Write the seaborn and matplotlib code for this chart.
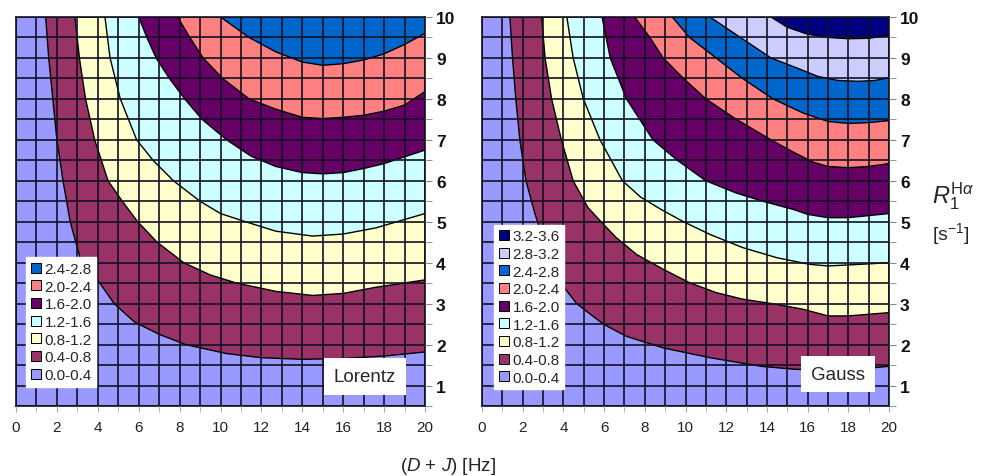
import matplotlib
matplotlib.use("Agg")
import matplotlib.pyplot as plt
import seaborn as sns
from matplotlib.lines import Line2D
from matplotlib.ticker import MultipleLocator

sns.set_style("white")
plt.rcParams['font.family'] = ['Liberation Sans', 'DejaVu Sans']
plt.rcParams['mathtext.fontset'] = 'custom'
plt.rcParams['mathtext.rm'] = 'Liberation Sans'
plt.rcParams['mathtext.it'] = 'Liberation Sans:italic'

# ---- data: range labels and colours of the bands (lowest first) ----
band_labels = ["0.0-0.4", "0.4-0.8", "0.8-1.2", "1.2-1.6", "1.6-2.0",
               "2.0-2.4", "2.4-2.8", "2.8-3.2", "3.2-3.6"]
band_colors = ["#9999FF", "#993366", "#FFFFCC", "#CCFFFF", "#660066",
               "#FF8080", "#0066CC", "#CCCCFF", "#000080"]

# contour boundaries (D+J [Hz], R1 [s^-1])
lor_04 = [(1.45, 10), (1.6, 9), (1.8, 8), (2.0, 7), (2.3, 6), (2.65, 5), (3.2, 4),
          (4.1, 3.5), (4.8, 3.0), (5.8, 2.55), (7.0, 2.25), (8.3, 2.0), (10.3, 1.78),
          (12, 1.68), (14, 1.64), (16, 1.66), (18, 1.72), (20, 1.82)]
lor_08 = [(2.88, 10), (3.1, 9), (3.4, 8), (3.85, 7), (4.5, 6), (5.2, 5.5), (5.95, 5),
          (6.9, 4.5), (8.2, 4), (9.5, 3.7), (10.8, 3.5), (12.7, 3.3), (14.5, 3.2),
          (16, 3.25), (17.6, 3.4), (20, 3.58)]
lor_12 = [(4.35, 10), (4.6, 9), (5.1, 8), (5.9, 7), (6.7, 6.5), (7.7, 6), (9.0, 5.5),
          (10, 5.2), (11.1, 5.02), (12.7, 4.77), (14.5, 4.65), (16, 4.7), (17.6, 4.85),
          (20, 5.2)]
lor_16 = [(6.0, 10), (6.4, 9.5), (6.85, 9), (7.5, 8.5), (8.25, 8), (9.1, 7.5),
          (10.3, 7.0), (11.5, 6.6), (12.7, 6.35), (14, 6.2), (15, 6.17), (16, 6.2),
          (17, 6.3), (18, 6.42), (20, 6.75)]
lor_20 = [(7.9, 10), (8.5, 9.5), (9.15, 9), (10.1, 8.5), (11.4, 8), (12.7, 7.75),
          (14, 7.55), (15, 7.52), (16, 7.55), (17, 7.6), (18, 7.7), (19, 7.85), (20, 8.18)]
lor_24 = [(10.0, 10), (11.4, 9.5), (12.7, 9.15), (14, 8.9), (15, 8.82), (16, 8.86),
          (17, 8.95), (18, 9.1), (19, 9.33), (20, 9.6)]

gau_04 = [(1.37, 10), (1.5, 9), (1.66, 8), (1.86, 7), (2.16, 6), (2.6, 5.2), (3.1, 4.4),
          (3.8, 3.55), (4.65, 3.0), (5.96, 2.5), (7.1, 2.2), (8.9, 1.92), (11.2, 1.68),
          (13.7, 1.47), (15.3, 1.4), (17, 1.37), (18.5, 1.4), (20, 1.47)]
gau_08 = [(2.93, 10), (3.1, 9), (3.42, 8), (3.9, 7), (4.48, 6), (5.2, 5.35), (5.96, 4.94),
          (6.6, 4.61), (7.6, 4.2), (8.9, 3.84), (10.2, 3.51), (11.5, 3.27), (12.8, 3.11),
          (14.5, 2.98), (15.8, 2.86), (17, 2.7), (18, 2.7), (20, 2.78)]
gau_12 = [(4.17, 10), (4.48, 9), (4.98, 8), (5.8, 7), (6.9, 6), (7.8, 5.6), (8.8, 5.3),
          (9.9, 5.0), (11.2, 4.69), (12.8, 4.37), (14.5, 4.12), (16.1, 3.96), (17, 3.92),
          (18.6, 3.96), (20, 4.0)]
gau_16 = [(5.9, 10), (6.3, 9), (7.1, 8), (8.4, 7), (9.6, 6.5), (11.0, 6.0), (12.5, 5.7),
          (13.8, 5.5), (15.3, 5.3), (16, 5.18), (17, 5.1), (18, 5.1), (20, 5.2)]
gau_20 = [(7.5, 10), (8.25, 9.5), (8.9, 9), (9.9, 8.5), (11.0, 8), (12.5, 7.5),
          (14.2, 7.0), (15.3, 6.7), (16.3, 6.45), (17, 6.35), (18, 6.32), (19, 6.35),
          (20, 6.42)]
gau_24 = [(9.35, 10), (10.2, 9.5), (11.5, 9), (12.8, 8.5), (14.3, 8), (15.8, 7.65),
          (17, 7.45), (18, 7.4), (19, 7.42), (20, 7.47)]
gau_28 = [(11.2, 10), (12.7, 9.5), (14.2, 9), (15.5, 8.75), (16.5, 8.55), (17.5, 8.45),
          (18.5, 8.43), (19.3, 8.45), (20, 8.52)]
gau_32 = [(14.2, 10), (15, 9.75), (16, 9.58), (17, 9.5), (18, 9.47), (19, 9.48),
          (20, 9.55)]

lorentz_bounds = [lor_04, lor_08, lor_12, lor_16, lor_20, lor_24]
gauss_bounds = [gau_04, gau_08, gau_12, gau_16, gau_20, gau_24, gau_28, gau_32]

x_ticks = list(range(0, 21, 2))
y_ticks = list(range(1, 11))
X_MIN, X_MAX = 0, 20
Y_MIN, Y_MAX = 0.5, 10

W, H = 981, 477
fig = plt.figure(figsize=(W / 100, H / 100), dpi=100)


def px_axes(x0, y0, x1, y1):
    return fig.add_axes([x0 / W, 1 - y1 / H, (x1 - x0) / W, (y1 - y0) / H])


def draw_panel(ax, bounds, name, leg_anchor, name_pos):
    ax.set_xlim(X_MIN, X_MAX)
    ax.set_ylim(Y_MIN, Y_MAX)
    ax.set_facecolor(band_colors[0])
    for k, b in enumerate(bounds):
        xs = [p[0] for p in b] + [X_MAX]
        ys = [p[1] for p in b] + [Y_MAX]
        ax.fill(xs, ys, color=band_colors[k + 1], zorder=1, lw=0)
        sns.lineplot(x=[p[0] for p in b], y=[p[1] for p in b], sort=False,
                     estimator=None, color="black", lw=1.0, ax=ax, zorder=2)
    ax.set_axisbelow(False)
    ax.xaxis.set_major_locator(MultipleLocator(2))
    ax.xaxis.set_minor_locator(MultipleLocator(1))
    ax.yaxis.set_major_locator(MultipleLocator(1))
    ax.yaxis.set_minor_locator(MultipleLocator(0.5))
    ax.grid(True, which="both", color="#111122", lw=1.2)
    ax.set_xticks(x_ticks)
    ax.set_yticks(y_ticks)
    ax.yaxis.tick_right()
    ax.tick_params(axis="y", which="both", direction="out", length=5, color="#888888",
                   labelsize=12.5, pad=3, right=True, left=False, labelcolor="#111111")
    ax.tick_params(axis="x", which="both", direction="out", length=4, color="#aaaaaa",
                   labelsize=11, pad=6, bottom=True, labelcolor="#222222")
    for lbl in ax.get_yticklabels():
        lbl.set_fontweight("bold")
    for s in ax.spines.values():
        s.set_color("#111122")
        s.set_linewidth(1.2)
    ax.set_xlabel("")
    ax.set_ylabel("")

    n = len(bounds) + 1
    handles = [Line2D([], [], marker="s", linestyle="None", markersize=7.5,
                      markerfacecolor=band_colors[i], markeredgecolor="black",
                      markeredgewidth=0.7) for i in range(n - 1, -1, -1)]
    labels = [band_labels[i] for i in range(n - 1, -1, -1)]
    leg = ax.legend(handles, labels, loc="lower left", bbox_to_anchor=leg_anchor,
                    borderaxespad=0, frameon=True, fancybox=False, framealpha=1,
                    edgecolor="white", facecolor="white", fontsize=11,
                    handlelength=0.7, handletextpad=0.2, labelspacing=0.24,
                    borderpad=0.3)
    leg.set_zorder(5)
    ax.text(name_pos[0], name_pos[1], name, transform=ax.transAxes, ha="center",
            va="center", fontsize=13.5, zorder=6,
            bbox=dict(facecolor="white", edgecolor="none", pad=7))


ax1 = px_axes(16, 18, 425, 407)
ax2 = px_axes(482, 18, 889, 407)
draw_panel(ax1, lorentz_bounds, "Lorentz", (0.025, 0.05), (0.853, 0.076))
draw_panel(ax2, gauss_bounds, "Gauss", (0.03, 0.043), (0.875, 0.082))

fig.text(448 / W, 1 - 467 / H, r"($\mathit{D}$ + $\mathit{J}$) [Hz]", ha="center",
         va="center", fontsize=13.5)
fig.text(932 / W, 1 - 196 / H, r"$\mathit{R}_{\mathrm{1}}^{\mathrm{H}\alpha}$",
         ha="left", va="center", fontsize=17)
fig.text(932 / W, 1 - 234 / H, r"[s$^{\mathrm{-1}}$]", ha="left", va="center",
         fontsize=14)

fig.savefig("out.png", dpi=100)
